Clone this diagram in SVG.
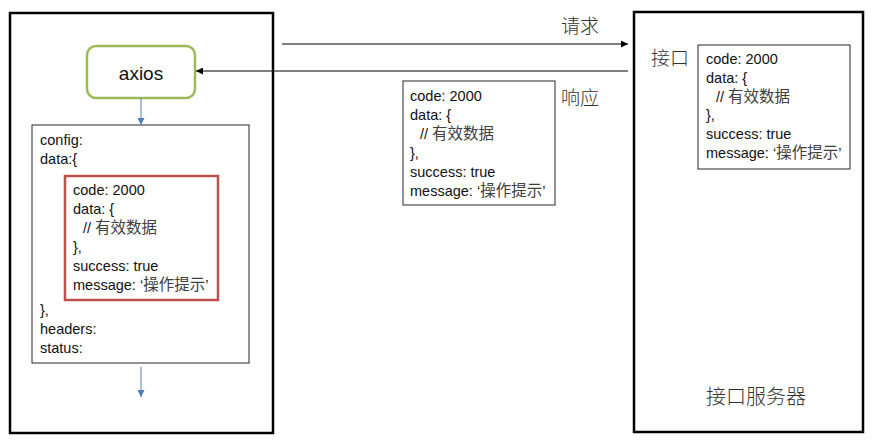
<svg xmlns="http://www.w3.org/2000/svg" width="876" height="447" viewBox="0 0 876 447">
<defs>
<style>
.frame{fill:#fff;stroke:#000;stroke-width:2.5}
.box{fill:#fff;stroke:#262626;stroke-width:1}
.t{font-family:"Liberation Sans","Noto Sans CJK SC",sans-serif;font-size:14.5px;fill:#111}
.c{font-family:"Noto Sans CJK SC",serif;fill:#404040;font-size:15.5px}
.lbl{font-family:"Noto Sans CJK SC",sans-serif;font-size:19px;fill:#333;font-weight:300}
.line{stroke:#000;stroke-width:1;fill:none}
.blue{stroke:#4a7ebb;stroke-width:1;fill:none}
</style>
<marker id="ah" viewBox="0 0 10 10" refX="10" refY="5" markerWidth="7" markerHeight="7" markerUnits="userSpaceOnUse" orient="auto"><path d="M0,0L10,5L0,10z" fill="#000"/></marker>
<marker id="ahb" viewBox="0 0 10 10" refX="10" refY="5" markerWidth="7" markerHeight="7" markerUnits="userSpaceOnUse" orient="auto"><path d="M0,0L10,5L0,10z" fill="#4a7ebb"/></marker>
</defs>
<rect width="876" height="447" fill="#fff"/>

<g id="client">
<rect class="frame" x="10" y="13" width="263" height="420"/>
</g>
<g id="server">
<rect class="frame" x="634" y="12" width="229" height="420"/>
<text class="lbl" x="756" y="404" text-anchor="middle" style="font-size:20px">接口服务器</text>
</g>

<g id="axios">
<rect x="87" y="46" width="108" height="52" rx="9" fill="#fff" stroke="#9bbb59" stroke-width="2.5"/>
<text x="141" y="80" text-anchor="middle" font-family="Liberation Sans, sans-serif" font-size="19" fill="#111">axios</text>
</g>

<g id="response-object">
<rect class="box" x="32" y="125" width="217" height="238"/>
<text class="t" x="40" y="145">config:</text>
<text class="t" x="40" y="164">data:{</text>
<text class="t" x="40" y="315">},</text>
<text class="t" x="40" y="334">headers:</text>
<text class="t" x="40" y="353">status:</text>
</g>

<g id="response-data">
<rect x="65" y="176" width="153" height="124" fill="#fff" stroke="#c0504d" stroke-width="2.5"/>
<text class="t" x="73" y="195">code: 2000</text>
<text class="t" x="73" y="214">data: {</text>
<text class="t" x="83" y="233">// <tspan class="c">有效数据</tspan></text>
<text class="t" x="73" y="252">},</text>
<text class="t" x="73" y="271">success: true</text>
<text class="t" x="73" y="290">message: ‘<tspan class="c">操作提示</tspan>’</text>
</g>

<g id="payload">
<rect class="box" x="403" y="81" width="152" height="124"/>
<text class="t" x="410" y="101">code: 2000</text>
<text class="t" x="410" y="120">data: {</text>
<text class="t" x="420" y="139">// <tspan class="c">有效数据</tspan></text>
<text class="t" x="410" y="158">},</text>
<text class="t" x="410" y="177">success: true</text>
<text class="t" x="410" y="196">message: ‘<tspan class="c">操作提示</tspan>’</text>
</g>

<g id="api">
<text class="lbl" x="651" y="65">接口</text>
<rect class="box" x="698" y="45" width="152" height="124"/>
<text class="t" x="706" y="64">code: 2000</text>
<text class="t" x="706" y="83">data: {</text>
<text class="t" x="716" y="102">// <tspan class="c">有效数据</tspan></text>
<text class="t" x="706" y="120">},</text>
<text class="t" x="706" y="139">success: true</text>
<text class="t" x="706" y="158">message: ‘<tspan class="c">操作提示</tspan>’</text>
</g>

<g id="connectors">
<line class="line" x1="282" y1="44" x2="628" y2="44" marker-end="url(#ah)"/>
<text class="lbl" x="561" y="33">请求</text>
<line class="line" x1="628" y1="71" x2="196" y2="71" marker-end="url(#ah)"/>
<text class="lbl" x="561" y="105">响应</text>
<line class="blue" x1="141" y1="98" x2="141" y2="125" marker-end="url(#ahb)"/>
<line class="blue" x1="141" y1="367" x2="141" y2="397" marker-end="url(#ahb)"/>
</g>
</svg>
